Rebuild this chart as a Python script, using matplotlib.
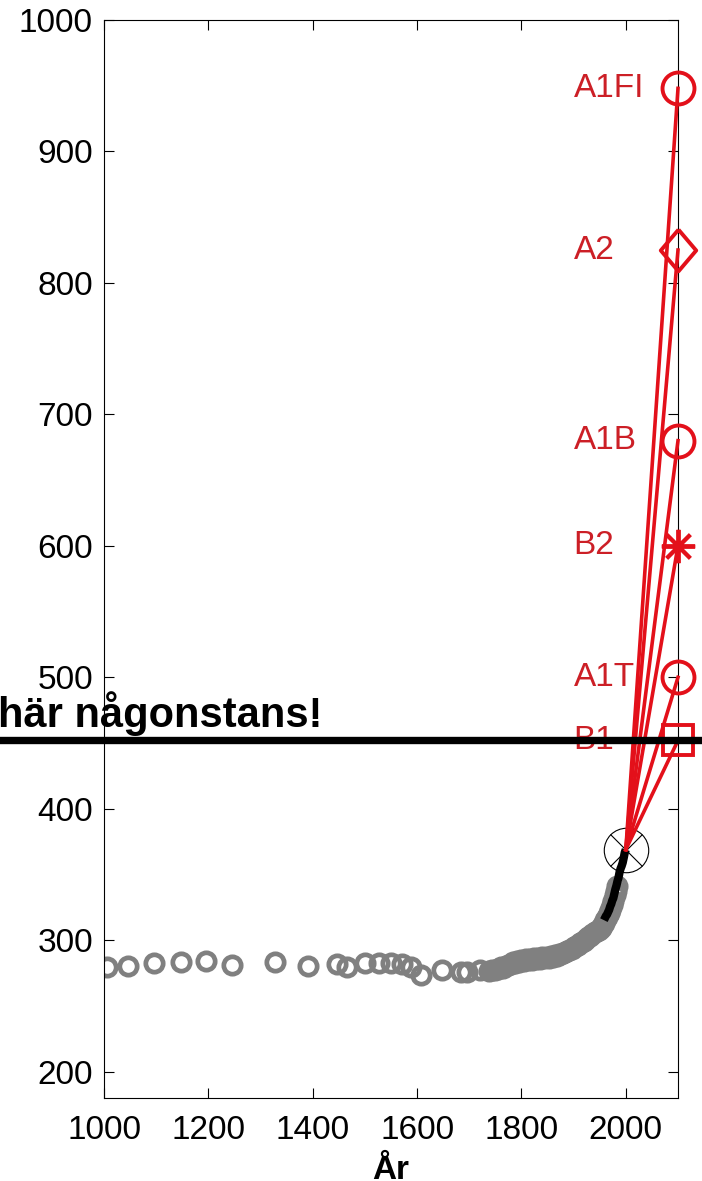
import matplotlib
matplotlib.use('Agg')
import matplotlib.pyplot as plt

plt.rcParams['font.family'] = ['Liberation Sans', 'DejaVu Sans']

# Ice core CO2 (ppm), sparse early record
ice_years_early = [1006, 1046, 1096, 1147, 1196, 1245, 1327, 1390, 1446, 1465,
                   1500, 1527, 1550, 1572, 1589, 1608, 1648, 1685, 1696, 1721]
ice_ppm_early = [279.5, 280.4, 282.6, 283.8, 283.9, 281.5, 283.1, 280.2, 281.9, 279.3,
                 282.6, 283.0, 282.9, 282.2, 279.8, 273.5, 277.1, 275.6, 275.7, 277.2]

# Ice core CO2 (ppm), dense industrial-era record
ice_years_late = [1738, 1744, 1750, 1755, 1760, 1765, 1770, 1775, 1780, 1784,
                  1788, 1792, 1796, 1800, 1804, 1808, 1812, 1816, 1820, 1824,
                  1828, 1832, 1836, 1840, 1844, 1848, 1852, 1856, 1860, 1864,
                  1868, 1872, 1876, 1880, 1884, 1888, 1892, 1896, 1900, 1904,
                  1908, 1912, 1916, 1920, 1924, 1928, 1932, 1936, 1940, 1944,
                  1948, 1952, 1955, 1958, 1961, 1964, 1967, 1970, 1973, 1976,
                  1979, 1981, 1984]
ice_ppm_late = [276.9, 277.5, 277.0, 278.4, 279.8, 278.9, 280.3, 281.2, 282.0, 283.5,
                282.8, 284.0, 283.2, 285.1, 284.3, 285.6, 284.9, 286.0, 285.2, 286.4,
                285.5, 286.8, 285.9, 287.2, 286.3, 287.6, 286.8, 288.0, 287.4, 288.5,
                288.2, 289.3, 289.8, 290.4, 290.9, 291.5, 292.4, 293.5, 294.5, 295.6,
                296.6, 297.6, 298.5, 299.5, 300.8, 302.1, 303.5, 304.9, 306.4, 307.2,
                308.0, 309.5, 311.2, 313.4, 315.6, 317.9, 320.4, 323.2, 326.5, 330.2,
                334.6, 337.5, 341.0]

# Mauna Loa annual means (ppm)
mlo_years = [1958, 1960, 1962, 1964, 1966, 1968, 1970, 1972, 1974, 1976,
             1978, 1980, 1982, 1984, 1986, 1988, 1990, 1992, 1994, 1996,
             1998, 2000]
mlo_ppm = [315.3, 316.9, 318.5, 319.6, 321.4, 323.1, 325.7, 327.5, 330.2, 332.0,
           335.4, 338.8, 341.5, 344.9, 347.6, 351.7, 354.5, 356.5, 359.0, 362.7,
           366.8, 369.0]

# SRES scenarios for 2100 (ppm)
scen_names = ['A1FI', 'A2', 'A1B', 'B2', 'A1T', 'B1']
scen_ppm = [948, 825, 680, 600, 500, 452]
scen_markers = ['o', [(0, 1), (0.85, 0), (0, -1), (-0.85, 0), (0, 1)], 'o', (8, 2, 0), 'o', 's']
scen_sizes = [23, 30, 23, 24, 23, 21]

start_year, start_ppm = 2000, 369.0
end_year = 2100
marker_line = 452.5

red = '#e3101a'
text_red = '#cc1f26'
gray = '#808080'

fig = plt.figure(figsize=(7.02, 11.81), dpi=100)
ax = fig.add_axes([104 / 702, 1 - 1098 / 1181, (678 - 104) / 702, (1098 - 20) / 1181])

# historical ice core data
ax.plot(ice_years_early, ice_ppm_early, 'o', mfc='none', mec=gray, ms=12.5,
        mew=3.4, zorder=2)
ax.plot(ice_years_late, ice_ppm_late, 'o', mfc='none', mec=gray, ms=12.5,
        mew=3.4, zorder=2)

# "today" marker
ax.plot(start_year, start_ppm, 'o', ms=32, mfc='none', mec='black', mew=0.8, zorder=3)
ax.plot(start_year, start_ppm, 'x', ms=22.6, mec='black', mew=0.8, zorder=3)

# measured record
ax.plot(mlo_years, mlo_ppm, color='black', lw=6, solid_capstyle='butt', zorder=4)

# scenario lines and end markers
for name, v, m, s in zip(scen_names, scen_ppm, scen_markers, scen_sizes):
    ax.plot([start_year, end_year], [start_ppm, v], color=red, lw=2.6, zorder=5,
            clip_on=False)
    ax.plot(end_year, v, marker=m, ms=s, mfc='none', mec=red, mew=2.8,
            color=red, zorder=6, clip_on=False)
    ax.text(1900, v, name, color=text_red, fontsize=24, ha='left', va='center',
            zorder=6)

# horizontal line
ax.axhline(marker_line, xmin=-0.25, xmax=1.1, color='black', lw=5.3,
           clip_on=False, zorder=8)
fig.text(-2 / 702, 1 - 727 / 1181, 'här någonstans!', fontsize=30,
         fontweight='bold', ha='left', va='baseline', zorder=9)

ax.set_xlim(1000, 2100)
ax.set_ylim(180, 1000)
ax.set_xticks([1000, 1200, 1400, 1600, 1800, 2000])
ax.set_yticks(range(200, 1001, 100))
ax.tick_params(direction='in', length=7, width=0.8, top=True, right=True,
               labelsize=24)
ax.tick_params(axis='x', pad=12)
ax.tick_params(axis='y', pad=8)
for sp in ax.spines.values():
    sp.set_linewidth(0.8)

ax.set_xlabel('År', fontsize=24, fontweight='bold', labelpad=7)

fig.savefig('out.png', dpi=100)
